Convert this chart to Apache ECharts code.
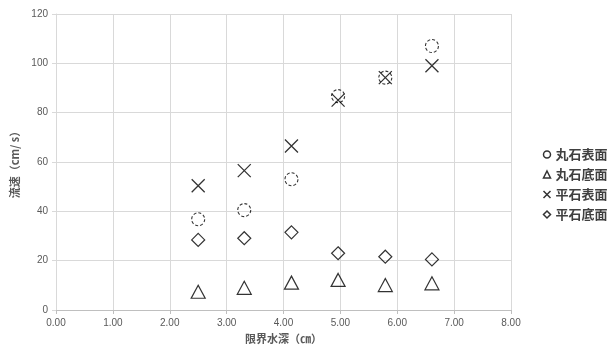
<!DOCTYPE html>
<html>
<head>
<meta charset="utf-8">
<script src="https://cdn.jsdelivr.net/npm/echarts@6/dist/echarts.min.js"></script>
<style>html,body{margin:0;padding:0;background:#fff;}#c{width:611px;height:345px;}</style>
</head>
<body>
<div id="c"></div>
<script>
const depths = [2.50, 3.31, 4.14, 4.96, 5.79, 6.61];
const roundSurface = [36.8, 40.5, 53.0, 86.7, 94.2, 107.0];
const roundBottom = [7.4, 9.0, 11.1, 12.2, 10.1, 10.8];
const flatSurface = [50.4, 56.5, 66.5, 85.1, 94.2, 99.0];
const flatBottom = [28.4, 29.1, 31.5, 23.0, 21.6, 20.5];
const seriesNames = ['丸石表面', '丸石底面', '平石表面', '平石底面'];
const xTitle = '限界水深（㎝）';
const yTitle = '流速（cm/ s）';

function pts(vals) { return depths.map((d, i) => [d, vals[i]]); }

const chart = echarts.init(document.getElementById('c'), null, {renderer: 'canvas'});
const labelFont = {color: '#595959', fontSize: 10, fontFamily: 'Liberation Sans, Arial, sans-serif'};
const titleFont = {color: '#595959', fontSize: 11, fontWeight: 'bold', fontFamily: 'Noto Sans CJK JP, sans-serif'};
const crossPath = 'path://M0,0L10,10M10,0L0,10';

chart.setOption({
  animation: false,
  backgroundColor: '#fff',
  grid: {left: 56, right: 100, top: 14, bottom: 35, containLabel: false, outerBoundsMode: 'none'},
  xAxis: {
    type: 'value', min: 0, max: 8, interval: 1,
    name: xTitle, nameLocation: 'middle', nameGap: 22, nameTextStyle: titleFont,
    axisLine: {show: true, lineStyle: {color: '#bfbfbf'}},
    axisTick: {show: true, length: 4, lineStyle: {color: '#bfbfbf'}},
    axisLabel: Object.assign({formatter: v => v.toFixed(2), margin: 8}, labelFont),
    splitLine: {show: true, lineStyle: {color: '#d9d9d9'}}
  },
  yAxis: {
    type: 'value', min: 0, max: 120, interval: 20,
    name: yTitle, nameLocation: 'middle', nameGap: 36, nameTextStyle: titleFont,
    axisLine: {show: true, lineStyle: {color: '#d9d9d9'}},
    axisTick: {show: true, length: 4, lineStyle: {color: '#d9d9d9'}},
    axisLabel: Object.assign({margin: 8}, labelFont),
    splitLine: {show: true, lineStyle: {color: '#d9d9d9'}}
  },
  legend: {
    orient: 'vertical', left: 536, top: 143, itemWidth: 7, itemHeight: 7, itemGap: 7,
    textStyle: {color: '#404040', fontSize: 13, fontWeight: 'bold', fontFamily: 'Noto Sans CJK JP, sans-serif', padding: [0, 0, 0, 0]},
    data: [
      {name: seriesNames[0], icon: 'circle', itemStyle: {color: '#fff', borderColor: '#000', borderWidth: 1.5, borderType: 'solid'}},
      {name: seriesNames[1], icon: 'triangle', itemStyle: {color: '#fff', borderColor: '#000', borderWidth: 1.5}},
      {name: seriesNames[2], icon: crossPath, itemStyle: {color: 'none', borderColor: '#000', borderWidth: 1.5}},
      {name: seriesNames[3], icon: 'diamond', itemStyle: {color: '#fff', borderColor: '#000', borderWidth: 1.5}}
    ]
  },
  series: [
    {name: seriesNames[0], type: 'scatter', data: pts(roundSurface), symbol: 'circle', symbolSize: 13,
     itemStyle: {color: 'rgba(255,255,255,0)', borderColor: '#000', borderWidth: 1.1, borderType: [3, 2]}},
    {name: seriesNames[1], type: 'scatter', data: pts(roundBottom), symbol: 'triangle', symbolSize: [14, 13],
     itemStyle: {color: 'rgba(255,255,255,0)', borderColor: '#000', borderWidth: 1.2}},
    {name: seriesNames[2], type: 'scatter', data: pts(flatSurface), symbol: crossPath, symbolSize: 13,
     itemStyle: {color: 'none', borderColor: '#000', borderWidth: 1.3}},
    {name: seriesNames[3], type: 'scatter', data: pts(flatBottom), symbol: 'diamond', symbolSize: [13, 13],
     itemStyle: {color: 'rgba(255,255,255,0)', borderColor: '#000', borderWidth: 1.2}}
  ]
});
</script>
</body>
</html>
